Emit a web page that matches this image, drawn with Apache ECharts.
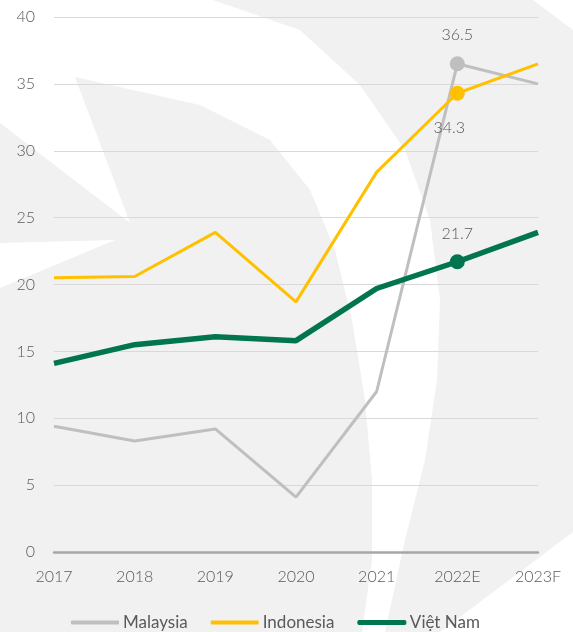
<!DOCTYPE html>
<html>
<head>
<meta charset="utf-8">
<script src="https://cdn.jsdelivr.net/npm/echarts@6/dist/echarts.min.js"></script>
<style>
html,body{margin:0;padding:0;background:#f1f1f1;}
#chart{width:573px;height:632px;}
</style>
</head>
<body>
<div id="chart"></div>
<script>
// ---- data ----
const categories = ['2017', '2018', '2019', '2020', '2021', '2022E', '2023F'];
const malaysia  = [9.4, 8.3, 9.2, 4.1, 12.0, 36.5, 35.0];
const indonesia = [20.5, 20.6, 23.9, 18.7, 28.4, 34.3, 36.5];
const vietnam   = [14.1, 15.5, 16.1, 15.8, 19.7, 21.7, 23.9];
const seriesNames = ['Malaysia', 'Indonesia', 'Việt Nam'];
const yTicks = [0, 5, 10, 15, 20, 25, 30, 35, 40];
const highlightIndex = 5; // 2022E

// ---- styling ----
const FONT = 'Lato';
const TEXT_COLOR = '#595959';
const colors = ['#bfbfbf', '#ffc000', '#007550'];
const widths = [3, 3, 5.5];
const labelCfg = [
  {position: 'top', distance: 13, offset: [0, 0]},
  {position: 'bottom', distance: 19, offset: [-8, 0]},
  {position: 'top', distance: 12, offset: [0, 0]}
];

function buildData(values, si) {
  return values.map((v, i) => {
    if (i === highlightIndex) {
      return {
        value: v,
        symbol: 'circle',
        symbolSize: 15,
        label: {
          show: true,
          position: labelCfg[si].position,
          distance: labelCfg[si].distance,
          offset: labelCfg[si].offset,
          color: TEXT_COLOR,
          fontFamily: FONT,
          fontWeight: 300,
          fontSize: 16,
          formatter: (p) => p.value.toFixed(1)
        }
      };
    }
    return {value: v, symbol: 'none'};
  });
}

const allValues = [malaysia, indonesia, vietnam];

// decorative watermark (white shapes on grey)
const whiteShapes = [
  [[0,0],[213,0],[300,30],[360,85],[405,150],[430,220],[440,300],[437,380],[425,460],[405,540],[385,632],
   [362,632],[372,560],[372,480],[365,400],[352,320],[335,250],[310,190],[270,140],[200,105],[75,77],[130,223],[0,123]],
  [[0,243],[115,240],[0,288]],
  [[533,0],[573,0],[573,30]],
  [[573,532],[440,632],[573,632]]
];

const chart = echarts.init(document.getElementById('chart'));
chart.setOption({
  backgroundColor: '#f1f1f1',
  animation: false,
  graphic: whiteShapes.map(pts => ({
    type: 'polygon',
    z: -10,
    silent: true,
    shape: {points: pts},
    style: {fill: '#ffffff'}
  })),
  grid: {left: 54, right: 35, top: 17, bottom: 80, containLabel: false},
  legend: {
    data: seriesNames.map((n, i) => ({
      name: n,
      itemStyle: i === 2 ? {color: colors[i], borderColor: colors[i], borderWidth: 1} : {color: colors[i]}
    })),
    left: 66,
    top: 609,
    icon: 'roundRect',
    itemWidth: 48,
    itemHeight: 4,
    itemGap: 23,
    textStyle: {color: TEXT_COLOR, fontFamily: FONT, fontSize: 17, fontWeight: 400, padding: [0, 0, 0, -1]}
  },
  xAxis: {
    type: 'category',
    data: categories,
    boundaryGap: false,
    axisLine: {show: true, lineStyle: {color: '#a6a6a6', width: 2.5}},
    axisTick: {show: false},
    axisLabel: {color: TEXT_COLOR, fontFamily: FONT, fontWeight: 300, fontSize: 16, margin: 17}
  },
  yAxis: {
    type: 'value',
    min: yTicks[0],
    max: yTicks[yTicks.length - 1],
    interval: yTicks[1] - yTicks[0],
    axisLine: {show: false},
    axisTick: {show: false},
    splitLine: {lineStyle: {color: '#d9d9d9', width: 1}},
    axisLabel: {color: TEXT_COLOR, fontFamily: FONT, fontWeight: 300, fontSize: 16, margin: 19}
  },
  series: seriesNames.map((n, i) => ({
    name: n,
    type: 'line',
    data: buildData(allValues[i], i),
    symbol: 'circle',
    showSymbol: true,
    showAllSymbol: true,
    color: colors[i],
    itemStyle: {color: colors[i]},
    lineStyle: {color: colors[i], width: widths[i]},
    z: 2 + i
  }))
});
</script>
</body>
</html>
